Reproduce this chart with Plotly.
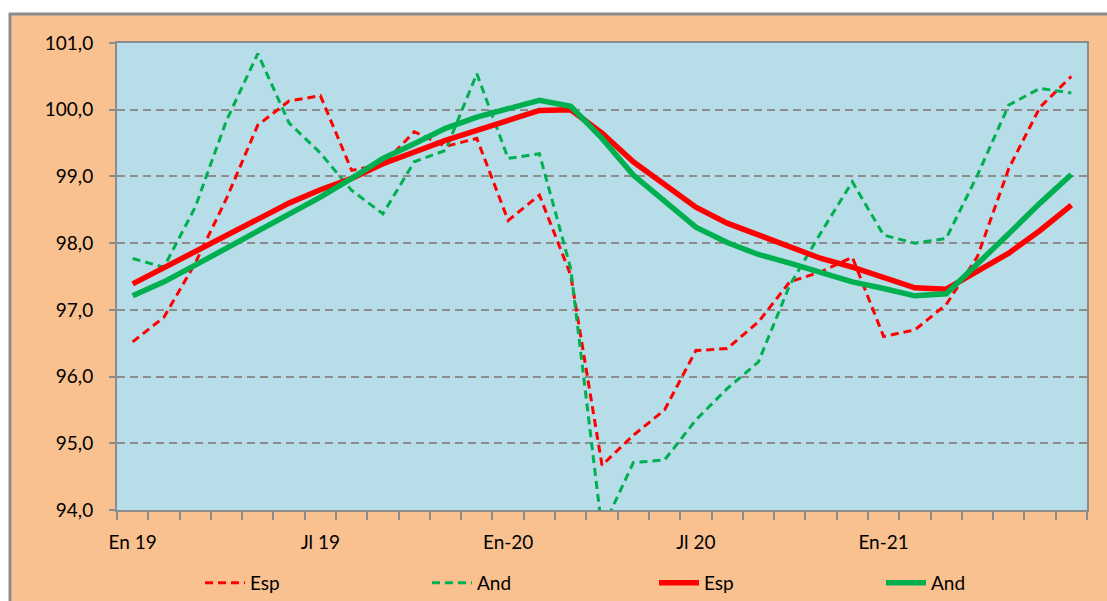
import plotly.graph_objects as go

months = ["En 19", "Feb 19", "Mar 19", "Abr 19", "May 19", "Jun 19", "Jl 19", "Ag 19", "Sep 19", "Oct 19", "Nov 19", "Dic 19",
          "En-20", "Feb 20", "Mar 20", "Abr 20", "May 20", "Jun 20", "Jl 20", "Ag 20", "Sep 20", "Oct 20", "Nov 20", "Dic 20",
          "En-21", "Feb 21", "Mar 21", "Abr 21", "May 21", "Jun 21", "Jl 21"]
tick_idx = [0, 6, 12, 18, 24]
tick_text = ["En 19", "Jl 19", "En-20", "Jl 20", "En-21"]

esp_dash = [96.52, 96.89, 97.70, 98.67, 99.77, 100.13, 100.21, 99.09, 99.18, 99.67, 99.45, 99.57,
            98.34, 98.72, 97.52, 94.67, 95.12, 95.50, 96.39, 96.42, 96.82, 97.42, 97.57, 97.79,
            96.60, 96.70, 97.08, 97.80, 99.12, 100.04, 100.50]
and_dash = [97.77, 97.64, 98.54, 99.84, 100.84, 99.80, 99.35, 98.79, 98.44, 99.22, 99.39, 100.54,
            99.27, 99.34, 97.62, 93.70, 94.71, 94.75, 95.35, 95.82, 96.22, 97.37, 98.16, 98.92,
            98.12, 98.00, 98.07, 99.02, 100.07, 100.32, 100.25]
esp_trend = [97.39, 97.63, 97.87, 98.12, 98.35, 98.60, 98.80, 98.97, 99.19, 99.37, 99.54, 99.69,
             99.84, 99.99, 100.00, 99.65, 99.22, 98.87, 98.54, 98.30, 98.12, 97.94, 97.77, 97.64,
             97.49, 97.33, 97.31, 97.57, 97.85, 98.19, 98.57]
and_trend = [97.21, 97.42, 97.67, 97.92, 98.19, 98.44, 98.69, 98.97, 99.27, 99.49, 99.72, 99.89,
             100.02, 100.14, 100.05, 99.57, 99.02, 98.64, 98.24, 98.01, 97.83, 97.70, 97.57, 97.42,
             97.32, 97.21, 97.24, 97.68, 98.14, 98.60, 99.03]

RED = "#FF0000"
GREEN = "#00B050"
ORANGE = "#F9C18F"
BLUE = "#B7DDE8"
GRAY = "#8C8C8C"
FONT = "Lato"

x = list(range(len(months)))

fig = go.Figure()
fig.add_trace(go.Scatter(x=x, y=esp_dash, mode="lines", name="Esp",
                         line=dict(color=RED, width=3, dash="8px,5px")))
fig.add_trace(go.Scatter(x=x, y=and_dash, mode="lines", name="And",
                         line=dict(color=GREEN, width=3, dash="8px,5px")))
fig.add_trace(go.Scatter(x=x, y=esp_trend, mode="lines", name="Esp",
                         line=dict(color=RED, width=5.5)))
fig.add_trace(go.Scatter(x=x, y=and_trend, mode="lines", name="And",
                         line=dict(color=GREEN, width=5.5)))

L, R, T, B = 117, 20, 43, 91
W, H = 1107, 601
pw, ph = W - L - R, H - T - B

def px_x(p):
    return (p - L) / pw

def px_y(p):
    return (H - B - p) / ph

shapes = [
    dict(type="rect", xref="paper", yref="paper", x0=px_x(-5), x1=px_x(W + 5), y0=px_y(13), y1=px_y(-5),
         fillcolor="white", line=dict(width=0), layer="above"),
    dict(type="rect", xref="paper", yref="paper", x0=px_x(-5), x1=px_x(9), y0=px_y(H + 5), y1=px_y(-5),
         fillcolor="white", line=dict(width=0), layer="above"),
    dict(type="line", xref="paper", yref="paper", x0=px_x(9), x1=px_x(W + 5), y0=px_y(14), y1=px_y(14),
         line=dict(color=GRAY, width=3), layer="above"),
    dict(type="line", xref="paper", yref="paper", x0=px_x(10), x1=px_x(10), y0=px_y(13), y1=px_y(H + 5),
         line=dict(color=GRAY, width=3), layer="above"),
]

fig.update_layout(
    width=W, height=H,
    margin=dict(l=L, r=R, t=T, b=B, autoexpand=False),
    paper_bgcolor=ORANGE,
    plot_bgcolor=BLUE,
    separators=",.",
    font=dict(family=FONT, size=19, color="black"),
    showlegend=True,
    legend=dict(orientation="h", xref="container", x=200 / W, xanchor="left",
                yref="container", y=(H - 583) / H, yanchor="middle",
                entrywidth=172, entrywidthmode="pixels", bgcolor="rgba(0,0,0,0)",
                font=dict(family=FONT, size=19), itemwidth=40, traceorder="normal"),
    shapes=shapes,
    xaxis=dict(range=[-0.5, len(months) - 0.5], tickmode="array", tickvals=tick_idx, ticktext=tick_text,
               ticks="", showgrid=False, zeroline=False, showline=True, linecolor=GRAY, linewidth=2,
               mirror=True, ticklabelstandoff=14,
               minor=dict(ticks="outside", ticklen=8, tickcolor=GRAY, tickwidth=2, tick0=-0.5, dtick=1,
                          showgrid=False)),
    yaxis=dict(range=[94, 101], tickmode="linear", tick0=94, dtick=1, tickformat=".1f",
               ticks="outside", ticklen=6, tickcolor=GRAY, tickwidth=2, ticklabelstandoff=12,
               showgrid=True, gridcolor=GRAY, gridwidth=1.5, griddash="8px,5px", zeroline=False,
               showline=True, linecolor=GRAY, linewidth=2, mirror=True),
)

fig.write_html("out.html", config={"displayModeBar": False},
               post_script="document.body.style.margin='0';document.body.style.overflow='hidden';")
